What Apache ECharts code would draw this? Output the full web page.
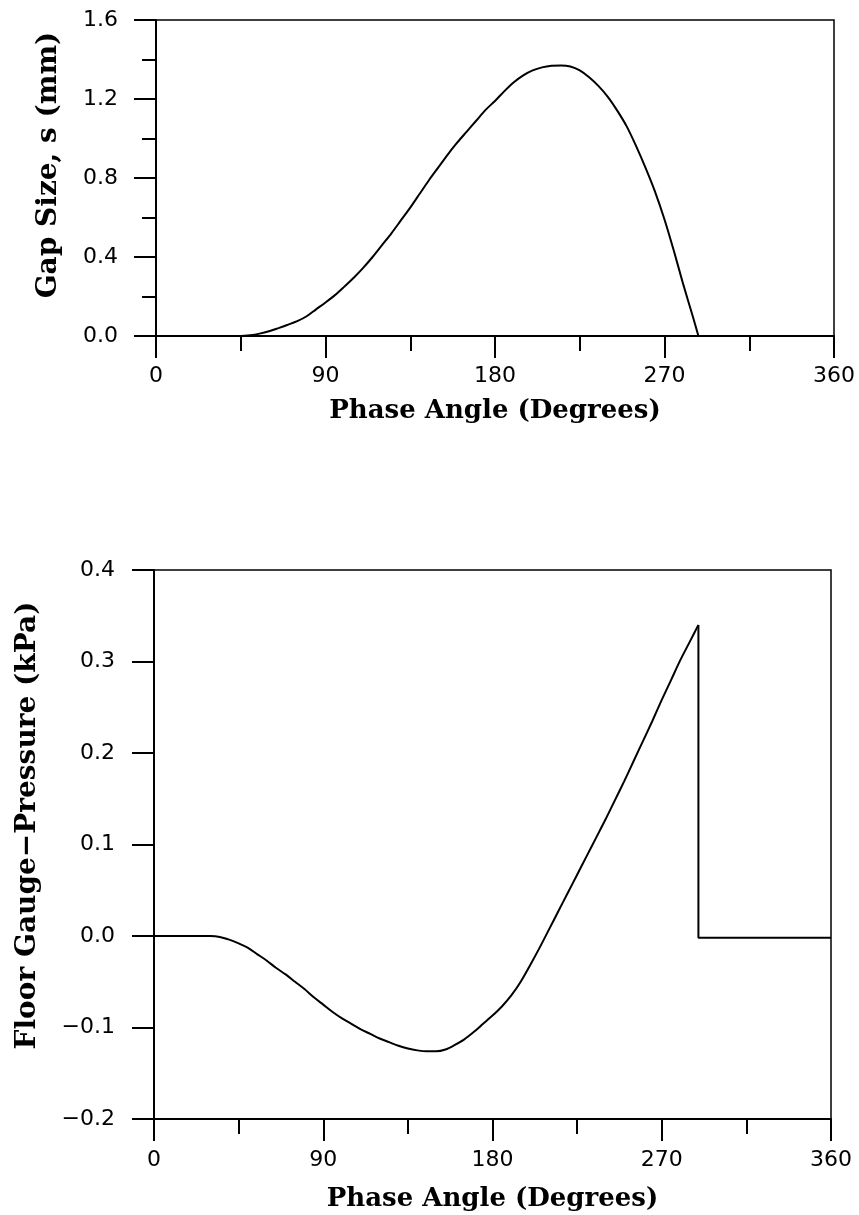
<!DOCTYPE html>
<html>
<head>
<meta charset="utf-8">
<script src="https://cdn.jsdelivr.net/npm/echarts@6/dist/echarts.min.js"></script>
<style>
html,body{margin:0;padding:0;background:#fff;}
#c{width:859px;height:1215px;}
</style>
</head>
<body>
<div id="c"></div>
<script>
// Top chart: gap size (mm) vs phase angle (degrees)
const gapAngle = [0, 10, 20, 30, 40, 45, 50, 55, 60, 65, 70, 75, 80, 85, 90, 95, 100, 105, 110, 115, 120, 125, 130, 135, 140, 145, 150, 155, 160, 165, 170, 175, 180, 185, 190, 195, 200, 205, 210, 215, 220, 225, 230, 235, 240, 245, 250, 255, 260, 265, 270, 275, 280, 285, 288];
const gapSize  = [0, 0, 0, 0, 0, 0, 0.004, 0.012, 0.024, 0.04, 0.057, 0.075, 0.10, 0.135, 0.17, 0.207, 0.25, 0.295, 0.345, 0.40, 0.46, 0.52, 0.585, 0.65, 0.72, 0.79, 0.855, 0.92, 0.98, 1.035, 1.09, 1.145, 1.19, 1.24, 1.285, 1.32, 1.345, 1.36, 1.368, 1.37, 1.365, 1.345, 1.31, 1.265, 1.21, 1.14, 1.06, 0.96, 0.85, 0.73, 0.59, 0.43, 0.26, 0.10, 0];

// Bottom chart: floor gauge pressure (kPa) vs phase angle (degrees)
const presAngle = [0, 10, 20, 30, 35, 40, 45, 50, 55, 60, 65, 70, 75, 80, 85, 90, 95, 100, 105, 110, 115, 120, 125, 130, 135, 140, 145, 150, 155, 160, 165, 170, 175, 180, 185, 190, 195, 200, 205, 210, 215, 220, 225, 230, 235, 240, 245, 250, 255, 260, 265, 270, 275, 280, 285, 289.5];
const presValue = [0, 0, 0, 0, -0.001, -0.004, -0.008, -0.013, -0.02, -0.027, -0.035, -0.042, -0.05, -0.058, -0.067, -0.075, -0.083, -0.09, -0.096, -0.102, -0.107, -0.112, -0.116, -0.12, -0.123, -0.125, -0.126, -0.126, -0.124, -0.119, -0.113, -0.105, -0.096, -0.087, -0.077, -0.065, -0.05, -0.032, -0.013, 0.007, 0.027, 0.047, 0.067, 0.087, 0.107, 0.127, 0.148, 0.169, 0.191, 0.213, 0.235, 0.258, 0.28, 0.302, 0.322, 0.34];
// Sudden drop back to zero after the peak
const dropAngle = [289.5, 289.5, 360];
const dropValue = [0.34, -0.002, -0.002];

const xTicks = [0, 90, 180, 270, 360];

const zip = (a, b) => a.map((v, i) => [v, b[i]]);

const labelFont = 'DejaVu Sans';
const titleFont = 'DejaVu Serif';

function xAxisCfg(gridIndex, nameGap, margin) {
  return {
    type: 'value', gridIndex: gridIndex, min: 0, max: 360, interval: 90,
    name: 'Phase Angle (Degrees)', nameLocation: 'middle', nameGap: nameGap,
    nameTextStyle: {fontFamily: titleFont, fontWeight: 'bold', fontSize: 26, color: '#000'},
    axisLine: {show: true, onZero: false, lineStyle: {color: '#000', width: 2}},
    axisTick: {show: true, inside: false, length: 22, lineStyle: {color: '#000', width: 2}},
    minorTick: {show: true, splitNumber: 2, length: 15, lineStyle: {color: '#000', width: 2}},
    axisLabel: {fontFamily: labelFont, fontSize: 22, color: '#000', margin: margin,
      formatter: v => xTicks.indexOf(v) >= 0 ? String(v) : ''},
    splitLine: {show: false}, minorSplitLine: {show: false}
  };
}

const option = {
  backgroundColor: '#fff',
  animation: false,
  grid: [
    {left: 156, top: 20, width: 678, height: 316, show: true, borderColor: '#000', borderWidth: 1.5, containLabel: false},
    {left: 154, top: 570, width: 677, height: 549, show: true, borderColor: '#000', borderWidth: 1.5, containLabel: false}
  ],
  xAxis: [xAxisCfg(0, 62, 29), xAxisCfg(1, 67, 30)],
  yAxis: [
    {
      type: 'value', gridIndex: 0, min: 0, max: 1.6, interval: 0.4,
      name: 'Gap Size, s (mm)', nameLocation: 'middle', nameGap: 93, nameRotate: 90,
      nameTextStyle: {fontFamily: titleFont, fontWeight: 'bold', fontSize: 28, color: '#000', padding: [0, 0, 0, 26]},
      axisLine: {show: true, onZero: false, lineStyle: {color: '#000', width: 2}},
      axisTick: {show: true, inside: false, length: 22, lineStyle: {color: '#000', width: 2}},
      minorTick: {show: true, splitNumber: 2, length: 14, lineStyle: {color: '#000', width: 2}},
      axisLabel: {fontFamily: labelFont, fontSize: 22, color: '#000', margin: 38,
        formatter: v => v.toFixed(1)},
      splitLine: {show: false}, minorSplitLine: {show: false}
    },
    {
      type: 'value', gridIndex: 1, min: -0.2, max: 0.4, interval: 0.1,
      name: 'Floor Gauge\u2212Pressure (kPa)', nameLocation: 'middle', nameGap: 112, nameRotate: 90,
      nameTextStyle: {fontFamily: titleFont, fontWeight: 'bold', fontSize: 28, color: '#000', padding: [0, 0, 0, 38]},
      axisLine: {show: true, onZero: false, lineStyle: {color: '#000', width: 2}},
      axisTick: {show: true, inside: false, length: 22, lineStyle: {color: '#000', width: 2}},
      axisLabel: {fontFamily: labelFont, fontSize: 22, color: '#000', margin: 39,
        formatter: v => { const s = Math.abs(v).toFixed(1); return (v < -1e-9 ? '\u2212' : '') + s; }},
      splitLine: {show: false}
    }
  ],
  series: [
    {type: 'line', xAxisIndex: 0, yAxisIndex: 0, data: zip(gapAngle, gapSize),
      showSymbol: false, smooth: 0.3,
      lineStyle: {color: '#000', width: 2}},
    {type: 'line', xAxisIndex: 1, yAxisIndex: 1, data: zip(presAngle, presValue),
      showSymbol: false, smooth: 0.3,
      lineStyle: {color: '#000', width: 2}},
    {type: 'line', xAxisIndex: 1, yAxisIndex: 1, data: zip(dropAngle, dropValue),
      showSymbol: false, smooth: false,
      lineStyle: {color: '#000', width: 2}}
  ]
};

const chart = echarts.init(document.getElementById('c'), null, {renderer: 'canvas'});
chart.setOption(option);
</script>
</body>
</html>
